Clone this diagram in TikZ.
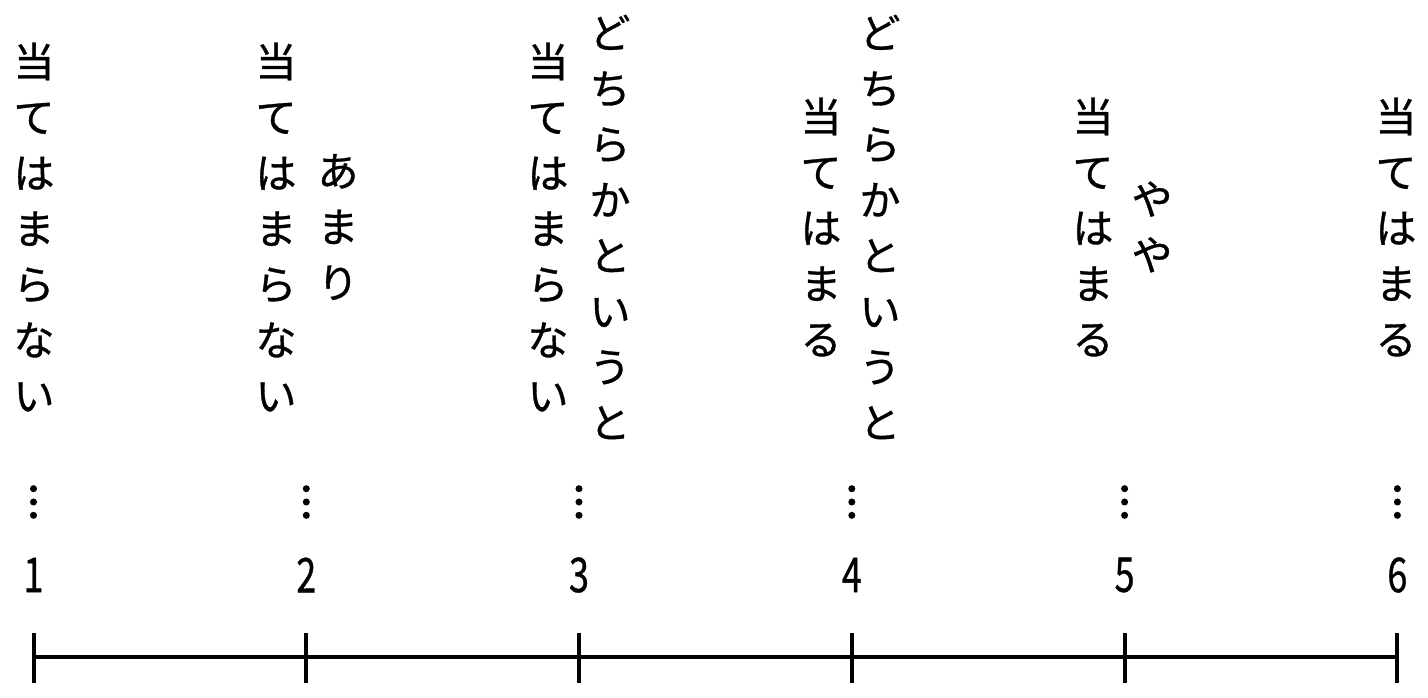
\documentclass[tikz,border=0pt]{standalone}
\usepackage{fontspec}
\newfontfamily\jp{Noto Sans CJK JP}[FakeBold=0.8]
\newfontfamily\jpdots{Noto Sans CJK JP}[FakeBold=4]
\begin{document}
\begin{tikzpicture}[x=1pt,y=-1pt,
  vt/.style={align=center, inner sep=0pt, anchor=center, font=\jp\fontsize{41}{55.7}\selectfont},
  num/.style={inner sep=0pt, font=\jp\fontsize{48}{48}\selectfont},
  dots/.style={inner sep=0pt, font=\jpdots\fontsize{40}{40}\selectfont},
  axisline/.style={line width=4pt},
  tickline/.style={line width=4pt}]
\useasboundingbox (0,0) rectangle (1428,698);
% tick coordinates
\foreach \i/\x in {1/33.5,2/306.3,3/579,4/851.8,5/1124.6,6/1397.4}{
  \coordinate (t\i) at (\x,657);
  \coordinate (tt\i) at (\x,633);
  \coordinate (tb\i) at (\x,683);
  \node[num] (n\i) at (\x,575) {\scalebox{0.75}[1]{\i}};
  \node[dots] (d\i) at (\x,502) {︙};
}
\draw[axisline] (t1) -- (t6);
\foreach \i in {1,...,6}{ \draw[tickline] (tt\i) -- (tb\i); }
% labels
\node[vt] (a1) at (34,227) {当\\て\\は\\ま\\ら\\な\\い};
\node[vt] (a2) at (276,227) {当\\て\\は\\ま\\ら\\な\\い};
\node[vt] (b2) at (338,227) {あ\\ま\\り};
\node[vt] (a3) at (548,227) {当\\て\\は\\ま\\ら\\な\\い};
\node[vt] (b3) at (610,227) {ど\\ち\\ら\\か\\と\\い\\う\\と};
\node[vt] (a4) at (821,227) {当\\て\\は\\ま\\る};
\node[vt] (b4) at (880,227) {ど\\ち\\ら\\か\\と\\い\\う\\と};
\node[vt] (a5) at (1093,227) {当\\て\\は\\ま\\る};
\node[vt] (b5) at (1152,227) {や\\や};
\node[vt] (a6) at (1396,227) {当\\て\\は\\ま\\る};
\end{tikzpicture}
\end{document}
